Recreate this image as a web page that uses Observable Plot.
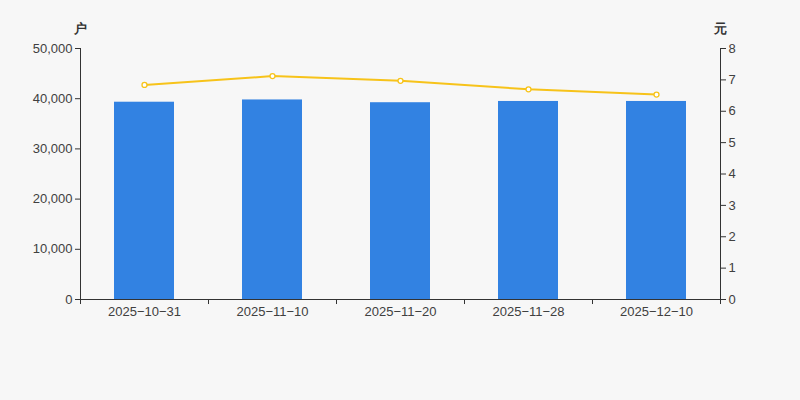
<!DOCTYPE html>
<html>
<head>
<meta charset="utf-8">
<script src="https://cdn.jsdelivr.net/npm/d3@7"></script>
<script src="https://cdn.jsdelivr.net/npm/@observablehq/plot@0.6"></script>
<style>
  html, body { margin: 0; padding: 0; background: #f7f7f7; }
</style>
</head>
<body>
<div id="chart"></div>
<script>
const dates = ["2025−10−31", "2025−11−10", "2025−11−20", "2025−11−28", "2025−12−10"];
const holders = [39300, 39750, 39200, 39450, 39450];
const prices = [6.84, 7.12, 6.97, 6.70, 6.53];
const leftTicks = [0, 10000, 20000, 30000, 40000, 50000];
const rightTicks = [0, 1, 2, 3, 4, 5, 6, 7, 8];
const leftMax = 50000, rightMax = 8;
const k = leftMax / rightMax;

const rows = dates.map((d, i) => ({date: d, holders: holders[i], price: prices[i], p: prices[i] * k}));
const axisColor = "#333";
const textColor = "#404040";

const chart = Plot.plot({
  width: 800,
  height: 400,
  marginLeft: 80,
  marginRight: 80,
  marginTop: 48,
  marginBottom: 101,
  style: {background: "#f7f7f7", fontFamily: "'Liberation Sans', Arial, sans-serif", fontSize: "13px", color: textColor},
  x: {domain: dates, paddingInner: 0.53, paddingOuter: 0.265, label: null},
  y: {domain: [0, leftMax], label: null},
  marks: [
    Plot.barY(rows, {x: "date", y: "holders", fill: "#3282e2"}),
    Plot.line(rows, {x: "date", y: "p", stroke: "#f7c31a", strokeWidth: 2}),
    Plot.dot(rows, {x: "date", y: "p", r: 2.5, fill: "#ffffff", stroke: "#f7c31a", strokeWidth: 1.3}),
    Plot.frame({anchor: "left", stroke: axisColor}),
    Plot.frame({anchor: "right", stroke: axisColor}),
    Plot.frame({anchor: "bottom", stroke: axisColor}),
    Plot.axisY({ticks: leftTicks, tickFormat: d3.format(","), tickSize: 5, tickPadding: 3, label: null, stroke: axisColor, fill: textColor}),
    Plot.axisY({anchor: "right", ticks: rightTicks.map(v => v * k), tickFormat: d => String(Math.round(d / k)), tickSize: 5, tickPadding: 3, label: null, stroke: axisColor, fill: textColor}),
    Plot.axisX({tickSize: 0, tickPadding: 7, label: null, fill: textColor}),
    Plot.ruleX(dates, {x: d => d, dx: -64, y1: 0, y2: -1000, stroke: axisColor}),
    Plot.ruleX([dates[dates.length - 1]], {x: d => d, dx: 64, y1: 0, y2: -1000, stroke: axisColor}),
    Plot.text(["户"], {frameAnchor: "top-left", dy: -25, text: d => d, fontSize: 13, fontWeight: "bold", fill: "#333", textAnchor: "middle"}),
    Plot.text(["元"], {frameAnchor: "top-right", dy: -25, text: d => d, fontSize: 13, fontWeight: "bold", fill: "#333", textAnchor: "middle"})
  ]
});
document.getElementById("chart").appendChild(chart);
</script>
</body>
</html>
